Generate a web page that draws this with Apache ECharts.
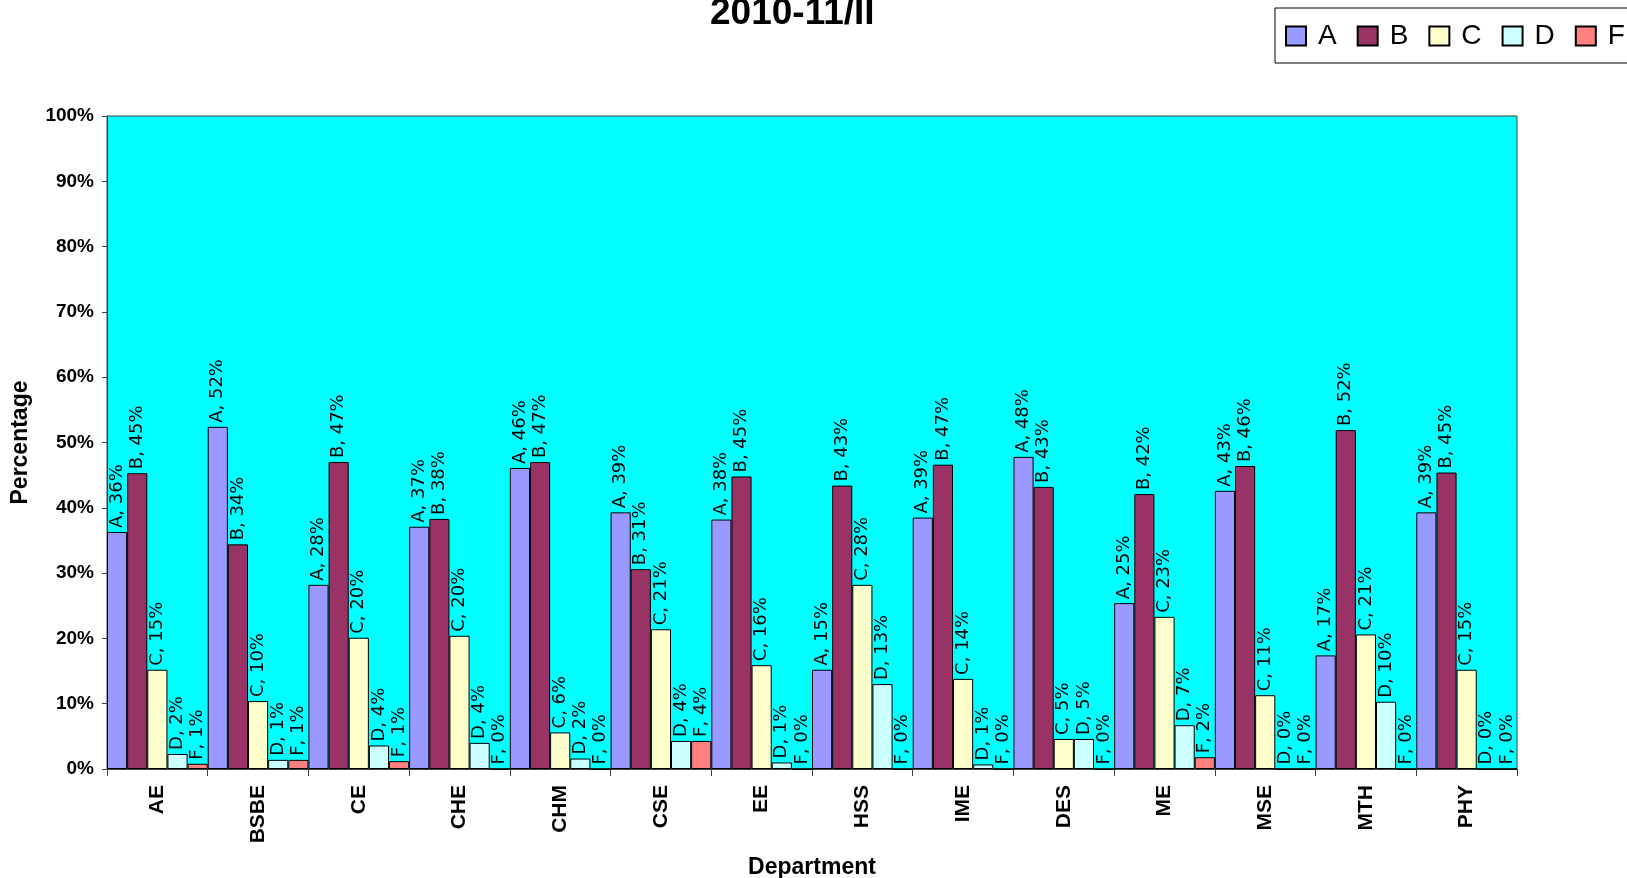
<!DOCTYPE html>
<html>
<head>
<meta charset="utf-8">
<script src="https://cdn.jsdelivr.net/npm/echarts@6/dist/echarts.min.js"></script>
<style>
html,body{margin:0;padding:0;background:#fff;}
#chart{width:1627px;height:878px;}
</style>
</head>
<body>
<div id="chart"></div>
<script>
const departments = ['AE','BSBE','CE','CHE','CHM','CSE','EE','HSS','IME','DES','ME','MSE','MTH','PHY'];
const gradeA = [36.3, 52.4, 28.2, 37.1, 46.1, 39.3, 38.2, 15.2, 38.5, 47.8, 25.4, 42.6, 17.4, 39.3];
const gradeB = [45.3, 34.4, 47.0, 38.3, 47.0, 30.6, 44.8, 43.4, 46.6, 43.2, 42.1, 46.4, 51.9, 45.4];
const gradeC = [15.2, 10.4, 20.1, 20.4, 5.6, 21.4, 15.9, 28.2, 13.8, 4.6, 23.3, 11.3, 20.6, 15.2];
const gradeD = [2.3, 1.4, 3.6, 4.0, 1.6, 4.3, 1.0, 13.0, 0.7, 4.6, 6.7, 0, 10.3, 0];
const gradeF = [0.8, 1.4, 1.2, 0, 0, 4.3, 0, 0, 0, 0, 1.8, 0, 0, 0];
const seriesNames = ['A','B','C','D','F'];
const yTicks = [0,10,20,30,40,50,60,70,80,90,100];

const colors = ['#9999FF','#993366','#FFFFCC','#CCFFFF','#FF8080'];
const dataSets = [gradeA, gradeB, gradeC, gradeD, gradeF];

const chart = echarts.init(document.getElementById('chart'));
const series = seriesNames.map((n, i) => ({
  name: n,
  type: 'bar',
  data: dataSets[i],
  barGap: '0%',
  barCategoryGap: '0%',
  itemStyle: {color: colors[i], borderColor: '#000', borderWidth: 1},
  label: {
    show: true,
    position: 'top',
    rotate: 90,
    align: 'left',
    verticalAlign: 'middle',
    distance: 4,
    fontFamily: '"DejaVu Sans", "Liberation Sans", Arial, sans-serif',
    fontSize: 18,
    color: '#000',
    formatter: p => p.seriesName + ', ' + Math.round(p.value) + '%'
  }
}));

chart.setOption({
  animation: false,
  title: {
    text: '2010-11/II',
    left: 710,
    top: -5,
    padding: 0,
    textStyle: {fontFamily: '"Liberation Sans", Arial, sans-serif', fontWeight: 'bold', fontSize: 37, color: '#000'}
  },
  legend: {
    left: 1275,
    top: 8,
    width: 420,
    padding: [14, 40, 13, 10],
    itemWidth: 20,
    itemHeight: 19,
    itemGap: 20,
    icon: 'rect',
    borderColor: '#000',
    borderWidth: 1,
    formatter: '{n|{name}}',
    textStyle: {
      color: '#000',
      rich: {n: {fontFamily: '"Liberation Sans", Arial, sans-serif', fontSize: 28, color: '#000', padding: [0,0,0,7]}}
    },
    data: seriesNames
  },
  grid: {
    left: 107, right: 110, top: 116, bottom: 109,
    outerBoundsMode: 'none',
    containLabel: false,
    show: true,
    backgroundColor: '#00FFFF',
    borderColor: '#404040',
    borderWidth: 1
  },
  xAxis: {
    type: 'category',
    data: departments,
    name: 'Department',
    nameLocation: 'middle',
    nameGap: 87,
    nameTextStyle: {fontFamily: '"Liberation Sans", Arial, sans-serif', fontWeight: 'bold', fontSize: 23, color: '#000'},
    axisLine: {lineStyle: {color: '#404040', width: 1}},
    axisTick: {show: true, length: 7, inside: false, alignWithLabel: false, lineStyle: {color: '#404040'}},
    axisLabel: {
      rotate: 90,
      margin: 16,
      interval: 0,
      fontFamily: '"Liberation Sans", Arial, sans-serif',
      fontWeight: 'bold',
      fontSize: 21,
      color: '#000'
    },
    splitLine: {show: false}
  },
  yAxis: {
    type: 'value',
    min: yTicks[0],
    max: yTicks[yTicks.length - 1],
    interval: 10,
    name: 'Percentage',
    nameLocation: 'middle',
    nameGap: 75,
    nameTextStyle: {fontFamily: '"Liberation Sans", Arial, sans-serif', fontWeight: 'bold', fontSize: 23, color: '#000'},
    axisLine: {show: true, lineStyle: {color: '#404040', width: 1}},
    axisTick: {show: true, length: 5, inside: false, lineStyle: {color: '#404040'}},
    axisLabel: {
      margin: 13,
      formatter: '{value}%',
      fontFamily: '"Liberation Sans", Arial, sans-serif',
      fontWeight: 'bold',
      fontSize: 19,
      color: '#000'
    },
    splitLine: {show: false}
  },
  series: series
});
</script>
</body>
</html>
